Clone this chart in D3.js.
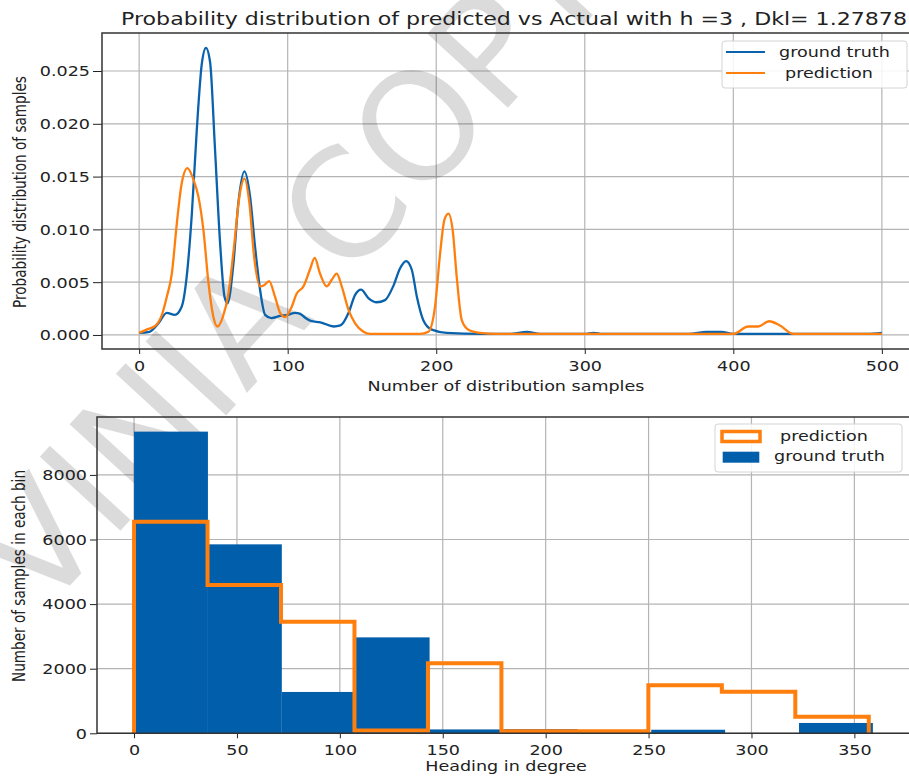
<!DOCTYPE html>
<html>
<head>
<meta charset="utf-8">
<script src="https://cdn.jsdelivr.net/npm/d3@7"></script>
<style>
  body { margin: 0; background: #fff; }
  text { font-family: "DejaVu Sans", sans-serif; fill: #222; }
</style>
</head>
<body>
<svg width="909" height="778"></svg>
<script>
// ---- data ----
var truthX = [0, 7, 13, 18.6, 24, 28.7, 32, 35.5, 38.8, 42.2, 45, 47.8, 51, 54.5, 57.5, 59.5, 63.5, 66.8, 70.9, 74.7, 78, 81.4, 84.8, 89, 95, 100, 105, 108.5, 112, 116, 122, 131, 135.5, 141, 145.4, 149.4, 154.3, 160, 165.5, 171, 175.6, 179.7, 183.5, 187, 191.3, 197, 207, 230, 250, 261, 270, 300, 306, 312, 370, 382, 392, 400, 450, 490, 500];
var truthY = [0.0002, 0.0003, 0.0011, 0.0021, 0.0019, 0.0027, 0.0055, 0.0115, 0.0194, 0.0257, 0.0272, 0.0258, 0.0178, 0.0087, 0.0036, 0.0030, 0.0068, 0.0125, 0.0155, 0.0131, 0.0084, 0.0043, 0.0019, 0.0016, 0.0018, 0.0019, 0.0021, 0.0020, 0.0016, 0.0013, 0.0012, 0.0008, 0.0009, 0.0021, 0.0038, 0.0043, 0.0035, 0.0031, 0.0033, 0.0046, 0.0063, 0.0070, 0.0062, 0.0036, 0.0014, 0.0005, 0.0002, 0.0001, 0.0001, 0.0003, 0.0001, 0.0001, 0.0002, 0.0001, 0.0001, 0.0003, 0.0003, 0.0001, 0.0001, 0.0001, 0.0002];

var predX = [0, 5, 10.8, 15.3, 18.6, 22, 25.4, 28.7, 32.5, 36.6, 39.9, 43.3, 46.7, 50, 52.7, 56.3, 60.1, 63.9, 67.5, 70.9, 74.2, 77.4, 81.4, 84.1, 87.5, 91.5, 94.9, 98.3, 102.8, 106, 110.6, 115, 118.2, 121.8, 126.3, 129.6, 133, 136.4, 140.9, 145.4, 151, 155.5, 189, 194.7, 199.2, 202.6, 205.5, 208.2, 211.1, 213.8, 217.2, 221.6, 229.5, 240, 400, 410, 416.7, 424.2, 431.4, 440.4, 500];
var predY = [0.0002, 0.0005, 0.00085, 0.0019, 0.0036, 0.0058, 0.0106, 0.0144, 0.0158, 0.0147, 0.0131, 0.0099, 0.0049, 0.0017, 0.0008, 0.0017, 0.0039, 0.0084, 0.0131, 0.0148, 0.0125, 0.0074, 0.0046, 0.0047, 0.0051, 0.0036, 0.0021, 0.0017, 0.0027, 0.0039, 0.0046, 0.0062, 0.0073, 0.0058, 0.0046, 0.0052, 0.0058, 0.0046, 0.0024, 0.0011, 0.0003, 0.0001, 0.0001, 0.0003, 0.0027, 0.0077, 0.0109, 0.0115, 0.0099, 0.0055, 0.0014, 0.0005, 0.0002, 0.0001, 0.0001, 0.0008, 0.0008, 0.0013, 0.0009, 0.0001, 0.0001];

var truthEdges = [0, 35.9, 71.8, 107.7, 143.6, 179.5, 215.4, 251.3, 287.2, 323.1, 359];
var truthCounts = [9340, 5850, 1280, 2970, 120, 130, 30, 110, 0, 320];
var predEdges = [0, 35.7, 71.4, 107.1, 142.8, 178.5, 214.2, 249.9, 285.6, 321.3, 357];
var predCounts = [6550, 4590, 3450, 85, 2170, 65, 65, 1490, 1285, 515];

var topXTicks = [0, 100, 200, 300, 400, 500];
var topYTicks = [0, 0.005, 0.010, 0.015, 0.020, 0.025];
var botXTicks = [0, 50, 100, 150, 200, 250, 300, 350];
var botYTicks = [0, 2000, 4000, 6000, 8000];

var titleText = "Probability distribution of predicted vs Actual with h =3 , Dkl= 1.27878";

// ---- look ----
var BLUE = "#0a62ad", BAR = "#005eab", ORANGE = "#ff7f0e", GRID = "#b4b4b4";
var SX = 1.3;   // the source picture is stretched sideways, text included

var svg = d3.select("svg");
svg.append("rect").attr("width", 909).attr("height", 778).attr("fill", "#fff");

var gridLayer = svg.append("g"),
    wmLayer = svg.append("g"),
    markLayer = svg.append("g"),
    axisLayer = svg.append("g");

function label(sel, x, y, str, size, anchor, rot) {
  return sel.append("text")
      .attr("transform", "translate(" + x + "," + y + ") scale(" + SX + ",1)" + (rot ? " rotate(" + rot + ")" : ""))
      .attr("text-anchor", anchor || "start")
      .style("font-size", size + "px")
      .text(str);
}

function grid(x, y, xt, yt, box) {
  gridLayer.selectAll(null).data(xt).enter().append("line")
      .attr("x1", function(d) { return x(d); }).attr("x2", function(d) { return x(d); })
      .attr("y1", box.top).attr("y2", box.bottom)
      .attr("stroke", GRID).attr("stroke-width", 1.2);
  gridLayer.selectAll(null).data(yt).enter().append("line")
      .attr("x1", box.left).attr("x2", box.right)
      .attr("y1", function(d) { return y(d); }).attr("y2", function(d) { return y(d); })
      .attr("stroke", GRID).attr("stroke-width", 1.2);
}

function axes(x, y, xt, yt, box, yfmt, ytick) {
  var gx = axisLayer.append("g")
      .attr("transform", "translate(0," + box.bottom + ")")
      .call(d3.axisBottom(x).tickValues(xt).tickSize(5).tickSizeOuter(0).tickFormat(d3.format("d")));
  gx.select(".domain").remove();
  gx.selectAll("line").attr("stroke", "#222");
  gx.selectAll("text").attr("y", null).attr("dy", null)
      .attr("transform", "translate(0,22) scale(" + SX + ",1)")
      .style("font-size", "13.5px").attr("fill", "#222");

  var gy = axisLayer.append("g")
      .attr("transform", "translate(" + box.left + ",0)")
      .call(d3.axisLeft(y).tickValues(yt).tickSize(ytick).tickSizeOuter(0).tickFormat(d3.format(yfmt)));
  gy.select(".domain").remove();
  gy.selectAll("line").attr("stroke", "#222");
  gy.selectAll("text").attr("x", null).attr("dy", "0.36em")
      .attr("transform", "translate(" + (-ytick - 3) + ",0) scale(" + SX + ",1)")
      .style("font-size", "13.5px").attr("fill", "#222");

  // spines: left, top, bottom (right one falls just off the picture)
  axisLayer.append("path")
      .attr("d", "M" + box.right + "," + box.top + "H" + box.left + "V" + box.bottom + "H" + box.right)
      .attr("fill", "none").attr("stroke", "#333").attr("stroke-width", 1.5);
}

// ================= top panel: densities =================
var topBox = {left: 102, right: 919, top: 33, bottom: 349};
var x1 = d3.scaleLinear().domain([-25, 525]).range([topBox.left, topBox.right]);
var y1 = d3.scaleLinear().domain([-0.00133, 0.0286]).range([topBox.bottom, topBox.top]);

grid(x1, y1, topXTicks, topYTicks, topBox);

var line1 = d3.line()
    .x(function(d) { return x1(d[0]); })
    .y(function(d) { return y1(d[1]); })
    .curve(d3.curveMonotoneX);

markLayer.append("path")
    .datum(d3.zip(truthX, truthY))
    .attr("d", line1)
    .attr("fill", "none").attr("stroke", BLUE).attr("stroke-width", 2.3);
markLayer.append("path")
    .datum(d3.zip(predX, predY))
    .attr("d", line1)
    .attr("fill", "none").attr("stroke", ORANGE).attr("stroke-width", 2.3);

axes(x1, y1, topXTicks, topYTicks, topBox, ".3f", 9);

label(axisLayer, 514, 25, titleText, 17, "middle");
label(axisLayer, 506, 391, "Number of distribution samples", 13.5, "middle");
label(axisLayer, 26, 192, "Probability distribution of samples", 13.6, "middle", -90);

var leg1 = axisLayer.append("g");
leg1.append("rect").attr("x", 722).attr("y", 41).attr("width", 185).attr("height", 47).attr("rx", 3)
    .attr("fill", "#fff").attr("fill-opacity", 0.85).attr("stroke", "#d4d4d4");
leg1.append("line").attr("x1", 726).attr("x2", 765).attr("y1", 52).attr("y2", 52)
    .attr("stroke", BLUE).attr("stroke-width", 2.2);
leg1.append("line").attr("x1", 726).attr("x2", 765).attr("y1", 73).attr("y2", 73)
    .attr("stroke", ORANGE).attr("stroke-width", 2.2);
label(leg1, 779, 57, "ground truth", 13.5);
label(leg1, 785, 78, "prediction", 13.5);

// ================= bottom panel: histograms =================
var botBox = {left: 97, right: 912, top: 417, bottom: 733.3};
var x2 = d3.scaleLinear().domain([-18, 378]).range([botBox.left, botBox.right]);
var y2 = d3.scaleLinear().domain([0, 9793]).range([botBox.bottom, botBox.top]);

grid(x2, y2, botXTicks, botYTicks, botBox);

var bins = truthCounts.map(function(c, i) { return {x0: truthEdges[i], x1: truthEdges[i + 1], n: c}; });
markLayer.selectAll(".bar")
    .data(bins)
  .enter().append("rect")
    .attr("class", "bar")
    .attr("x", function(d) { return x2(d.x0); })
    .attr("width", function(d) { return x2(d.x1) - x2(d.x0); })
    .attr("y", function(d) { return y2(d.n); })
    .attr("height", function(d) { return y2(0) - y2(d.n); })
    .attr("fill", BAR);

var steps = [[predEdges[0], 0]];
predCounts.forEach(function(c, i) {
  steps.push([predEdges[i], c]);
  steps.push([predEdges[i + 1], c]);
});
steps.push([predEdges[predEdges.length - 1], 0]);

markLayer.append("path")
    .datum(steps)
    .attr("d", d3.line().x(function(d) { return x2(d[0]); }).y(function(d) { return y2(d[1]); }))
    .attr("fill", "none").attr("stroke", ORANGE).attr("stroke-width", 4)
    .attr("stroke-linejoin", "miter");

axes(x2, y2, botXTicks, botYTicks, botBox, "d", 7);

label(axisLayer, 506, 771, "Heading in degree", 13.5, "middle");
label(axisLayer, 25, 576, "Number of samples in each bin", 13.6, "middle", -90);

var leg2 = axisLayer.append("g");
leg2.append("rect").attr("x", 715).attr("y", 424).attr("width", 187).attr("height", 48).attr("rx", 3)
    .attr("fill", "#fff").attr("fill-opacity", 0.85).attr("stroke", "#d4d4d4");
leg2.append("rect").attr("x", 722).attr("y", 431.5).attr("width", 38).attr("height", 10)
    .attr("fill", "#fff").attr("stroke", ORANGE).attr("stroke-width", 3.5);
leg2.append("rect").attr("x", 722.7).attr("y", 451.7).attr("width", 36.6).attr("height", 11)
    .attr("fill", BAR);
label(leg2, 780, 441, "prediction", 13.5);
label(leg2, 774, 461, "ground truth", 13.5);

// ================= watermark =================
wmLayer.append("text")
    .attr("transform", "translate(330,302) rotate(-47.5)")
    .attr("text-anchor", "middle")
    .style("font-size", "150px")
    .style("fill", "#000")
    .style("fill-opacity", 0.14)
    .text("VINIA COPY");
</script>
</body>
</html>
